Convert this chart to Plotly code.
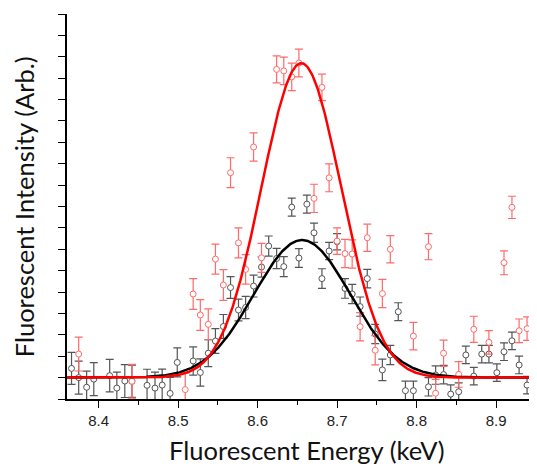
import numpy as np
import plotly.graph_objects as go

# ---- data ----
black_energy = [8.366, 8.375, 8.385, 8.394, 8.414, 8.423, 8.433, 8.442, 8.461, 8.471,
                8.480, 8.490, 8.499, 8.519, 8.528, 8.538, 8.547, 8.557, 8.566, 8.576,
                8.585, 8.595, 8.605, 8.614, 8.624, 8.633, 8.643, 8.652, 8.662, 8.671,
                8.681, 8.690, 8.700, 8.710, 8.719, 8.729, 8.738, 8.748, 8.757, 8.767,
                8.777, 8.786, 8.796, 8.815, 8.824, 8.834, 8.843, 8.853, 8.862, 8.872,
                8.882, 8.891, 8.901, 8.910, 8.920, 8.929, 8.939, 8.948]
black_intensity = [1.43, 1.00, 0.55, 0.93, 1.09, 0.51, 0.84, 0.83, 0.64, 0.51,
                   0.65, 0.26, 1.71, 1.78, 1.24, 2.14, 2.71, 3.39, 5.21, 4.16,
                   4.28, 5.28, 6.17, 7.15, 6.57, 6.19, 8.97, 6.59, 9.11, 7.77,
                   5.63, 6.92, 7.35, 5.17, 4.91, 4.32, 5.63, 3.04, 1.36, 2.06,
                   4.08, 0.39, 0.39, 0.57, 1.12, 1.14, 0.23, 0.34, 2.06, 1.07,
                   2.10, 2.10, 1.23, 2.21, 2.72, 1.59, 0.65, 0.11]
black_error = [0.75, 0.77, 0.75, 0.77, 0.76, 0.75, 0.77, 0.75, 0.75, 0.75,
               0.75, 0.75, 0.68, 0.66, 0.64, 0.63, 0.58, 0.56, 0.51, 0.51,
               0.52, 0.51, 0.47, 0.47, 0.47, 0.47, 0.42, 0.44, 0.42, 0.45,
               0.46, 0.40, 0.38, 0.46, 0.45, 0.45, 0.43, 0.45, 0.50, 0.45,
               0.42, 0.45, 0.45, 0.43, 0.43, 0.43, 0.43, 0.41, 0.41, 0.41,
               0.41, 0.41, 0.41, 0.41, 0.41, 0.41, 0.41, 0.41]

red_energy = [8.375, 8.442, 8.509, 8.519, 8.528, 8.538, 8.547, 8.557, 8.566, 8.576,
              8.585, 8.595, 8.605, 8.624, 8.633, 8.643, 8.652, 8.671, 8.681, 8.690,
              8.700, 8.710, 8.719, 8.729, 8.738, 8.748, 8.757, 8.767, 8.796, 8.815,
              8.824, 8.834, 8.853, 8.872, 8.891, 8.910, 8.920, 8.929, 8.939, 8.948]
red_intensity = [2.10, 0.83, 0.44, 4.91, 3.93, 3.49, 6.54, 5.33, 10.58, 7.30,
                 6.06, 11.78, 6.60, 15.41, 15.34, 15.06, 15.71, 9.38, 14.57, 10.34,
                 7.38, 6.80, 6.78, 3.38, 7.54, 2.28, 4.93, 7.00, 2.94, 7.12,
                 0.27, 2.14, 1.15, 3.26, 2.65, 6.37, 8.96, 3.19, 3.29, 2.76]
red_error = [0.79, 0.79, 0.79, 0.72, 0.72, 0.72, 0.70, 0.72, 0.70, 0.70,
             0.69, 0.66, 0.68, 0.63, 0.64, 0.64, 0.65, 0.66, 0.62, 0.65,
             0.62, 0.66, 0.66, 0.66, 0.64, 0.68, 0.66, 0.64, 0.64, 0.61,
             0.65, 0.61, 0.60, 0.61, 0.55, 0.56, 0.52, 0.55, 0.55, 0.55]

# Gaussian fit parameters (baseline, amplitude, centre keV, sigma keV)
red_fit = dict(base=1.0, amp=14.7, center=8.655, sigma=0.050)
black_fit = dict(base=1.0, amp=6.43, center=8.656, sigma=0.0605)

x_tick_vals = [8.4, 8.5, 8.6, 8.7, 8.8, 8.9]
x_tick_text = ["8.4", "8.5", "8.6", "8.7", "8.8", "8.9"]

x_range = [8.3603, 8.9515]
y_range = [0, 18]

# ---- figure ----
fx = np.linspace(x_range[0], x_range[1], 600)


def gauss(p):
    return p["base"] + p["amp"] * np.exp(-((fx - p["center"]) ** 2) / (2 * p["sigma"] ** 2))


BLACK_PT = "#555555"
RED_PT = "#ff6a6a"

fig = go.Figure()
fig.add_trace(go.Scatter(
    x=black_energy, y=black_intensity, mode="markers",
    marker=dict(symbol="circle", size=6, color="white", line=dict(color=BLACK_PT, width=1)),
    error_y=dict(type="data", array=black_error, color=BLACK_PT, thickness=1.2, width=4),
    showlegend=False))
fig.add_trace(go.Scatter(
    x=red_energy, y=red_intensity, mode="markers",
    marker=dict(symbol="circle", size=6, color="white", line=dict(color=RED_PT, width=1)),
    error_y=dict(type="data", array=red_error, color=RED_PT, thickness=1.2, width=4),
    showlegend=False))
fig.add_trace(go.Scatter(x=fx, y=gauss(black_fit), mode="lines",
                         line=dict(color="#000000", width=2.5), showlegend=False))
fig.add_trace(go.Scatter(x=fx, y=gauss(red_fit), mode="lines",
                         line=dict(color="#ff0000", width=2.5), showlegend=False))

fig.update_xaxes(
    range=x_range, showgrid=False, zeroline=False,
    showline=True, linecolor="#000000", linewidth=1.5,
    ticks="outside", ticklen=7, tickwidth=1.2, tickcolor="#000000",
    tickvals=x_tick_vals, ticktext=x_tick_text,
    tickfont=dict(family="Liberation Sans, Arial", size=15, color="#222222"),
    minor=dict(ticks="outside", ticklen=4, tickwidth=1.2, tickcolor="#000000",
               tickvals=[8.35, 8.45, 8.55, 8.65, 8.75, 8.85, 8.95]),
    automargin=False,
)
fig.update_yaxes(
    range=y_range, showgrid=False, zeroline=False,
    showline=True, linecolor="#000000", linewidth=1.5,
    ticks="outside", ticklen=7, tickwidth=1.2, tickcolor="#000000",
    dtick=1, tick0=0, showticklabels=False, automargin=False,
)

title_font = dict(family="Lato, Open Sans, sans-serif", size=25.5, color="#111111")
fig.add_annotation(text="Fluorescent Energy (keV)", xref="paper", yref="paper",
                   x=0.51, y=-0.176, xanchor="center", yanchor="bottom",
                   showarrow=False, font=title_font)
fig.add_annotation(text="Fluorescent Intensity (Arb.)", xref="paper", yref="paper",
                   x=-0.092, y=0.50, xanchor="center", yanchor="middle", textangle=-90,
                   showarrow=False, font=title_font)

# the page body adds an 8px offset, so the figure is 8px smaller with the
# left/top margins reduced accordingly
fig.update_layout(
    width=529, height=460,
    margin=dict(l=59, r=0, t=6, b=69),
    paper_bgcolor="white", plot_bgcolor="white",
)

fig.write_html("out.html")
